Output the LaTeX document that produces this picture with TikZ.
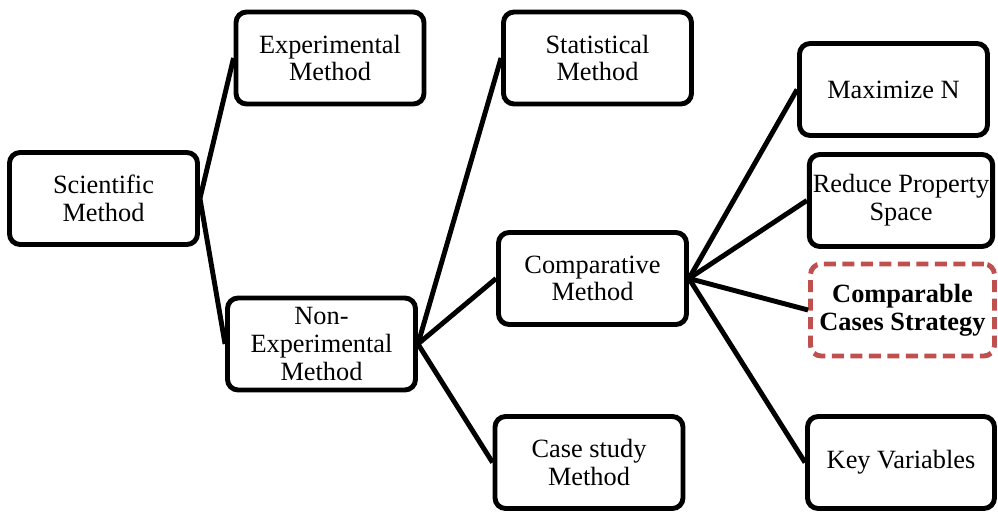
\documentclass[tikz,border=0pt]{standalone}
\usepackage{fontspec}
\setmainfont{Liberation Serif}
\usepackage{tikz}
\usepackage{xcolor}
\usetikzlibrary{positioning}
\definecolor{dashred}{RGB}{192,80,77}

\begin{document}
\begin{tikzpicture}[
  x=0.02cm, y=-0.02cm,
  font=\fontsize{15}{15.8}\selectfont,
  methodbox/.style={draw, line width=2.8pt, rounded corners=6pt, minimum width=3.76cm, minimum height=1.84cm, inner sep=2pt, align=center},
  focusbox/.style={methodbox, draw=dashred, dash pattern=on 0.24cm off 0.13cm, font=\fontsize{15}{15.8}\selectfont\bfseries},
  link/.style={line width=2.8pt}
]
\useasboundingbox (0,0) rectangle (998,516);
\node[methodbox] (sci) at (103.5,198.5) {Scientific\\Method};
\node[methodbox] (exp) at (330,58) {Experimental\\Method};
\node[methodbox] (nonexp) at (321.5,344) {Non-\\Experimental\\Method};
\node[methodbox] (stat) at (597.5,58) {Statistical\\Method};
\node[methodbox] (comp) at (592.5,278.5) {Comparative\\Method};
\node[methodbox] (case) at (589,462.5) {Case study\\Method};
\node[methodbox] (maxn) at (893.5,89.5) {Maximize N};
\node[methodbox, minimum width=3.66cm] (reduce) at (901,200.5) {Reduce Property\\Space};
\node[focusbox, minimum width=3.68cm] (ccs) at (902.5,310) {Comparable\\Cases Strategy};
\node[methodbox, minimum width=3.74cm] (key) at (901,462.5) {Key Variables};
% tree edges
\draw[link] (sci.east) -- (exp.west);
\draw[link] (sci.east) -- (nonexp.west);
\draw[link] (nonexp.east) -- (stat.west);
\draw[link] (nonexp.east) -- (comp.west);
\draw[link] (nonexp.east) -- (case.west);
\draw[link] (comp.east) -- (maxn.west);
\draw[link] (comp.east) -- (reduce.west);
\draw[link] (comp.east) -- (ccs.west);
\draw[link] (comp.east) -- (key.west);
\end{tikzpicture}
\end{document}
